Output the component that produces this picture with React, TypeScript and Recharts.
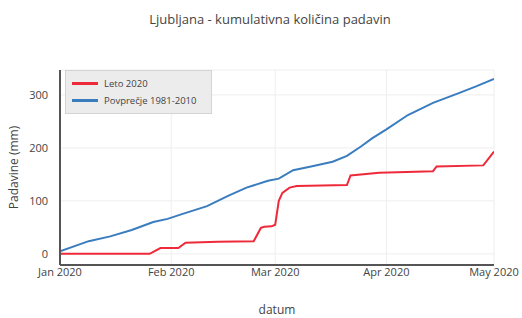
import { LineChart, Line, XAxis, YAxis, CartesianGrid, Label } from "recharts"

// Leto 2020 (cumulative precipitation, mm)
const letoDates = [
  "2020-01-01", "2020-01-26", "2020-01-29", "2020-02-03", "2020-02-05", "2020-02-14",
  "2020-02-24", "2020-02-26", "2020-02-27", "2020-02-29", "2020-03-01", "2020-03-02",
  "2020-03-03", "2020-03-05", "2020-03-07", "2020-03-21", "2020-03-22", "2020-03-30",
  "2020-04-14", "2020-04-15", "2020-04-28", "2020-05-01",
]
const letoValues = [0, 0, 11, 11, 21, 23, 24, 49, 51, 52, 55, 100, 115, 125, 128, 130, 148, 153, 156, 165, 167, 193]

// Povprečje 1981-2010
const avgDates = [
  "2020-01-01", "2020-01-09", "2020-01-15", "2020-01-21", "2020-01-27", "2020-01-31",
  "2020-02-04", "2020-02-11", "2020-02-17", "2020-02-22", "2020-02-28", "2020-03-02",
  "2020-03-06", "2020-03-11", "2020-03-17", "2020-03-21", "2020-03-25", "2020-03-28",
  "2020-04-01", "2020-04-07", "2020-04-14", "2020-04-21", "2020-04-26", "2020-05-01",
]
const avgValues = [5, 24, 33, 45, 60, 66, 75, 90, 110, 125, 138, 142, 158, 165, 174, 185, 203, 218, 235, 262, 285, 303, 316, 330]

const tickDates = ["2020-01-01", "2020-02-01", "2020-03-01", "2020-04-01", "2020-05-01"]
const tickLabels = ["Jan 2020", "Feb 2020", "Mar 2020", "Apr 2020", "May 2020"]
const yTicks = [0, 100, 200, 300]

const ts = (d: string) => Date.parse(d + "T00:00:00Z")
const letoData = letoDates.map((d, i) => ({ t: ts(d), v: letoValues[i] }))
const avgData = avgDates.map((d, i) => ({ t: ts(d), v: avgValues[i] }))
const xTicks = tickDates.map(ts)

const RED = "#ee2a3a"
const BLUE = "#3a7dbf"
const FONT = "'Open Sans', sans-serif"

function LegendBox() {
  const items = [
    { name: "Leto 2020", color: RED },
    { name: "Povprečje 1981-2010", color: BLUE },
  ]
  return (
    <div
      style={{
        position: "absolute",
        left: 65,
        top: 70,
        background: "#ececec",
        border: "1px solid #d4d4d4",
        padding: "4px 8px 4px 6px",
        fontFamily: FONT,
        fontSize: 9.5,
        color: "#444",
        width: 131,
      }}
    >
      {items.map((it) => (
        <div key={it.name} style={{ display: "flex", alignItems: "center", height: 17 }}>
          <span style={{ display: "inline-block", width: 26, height: 3, background: it.color, marginRight: 6 }} />
          {it.name}
        </div>
      ))}
    </div>
  )
}

export default function App() {
  return (
    <div style={{ position: "absolute", left: 0, top: 0, width: 522, height: 318, background: "#fff" }}>
      <div
        style={{
          position: "absolute",
          top: 10,
          left: 0,
          width: 540,
          textAlign: "center",
          fontFamily: FONT,
          fontSize: 13,
          color: "#444",
        }}
      >
        Ljubljana - kumulativna količina padavin
      </div>
      <LineChart width={522} height={318} margin={{ top: 70, right: 28, left: 0, bottom: 0 }}>
        <CartesianGrid stroke="#eeeeee" strokeWidth={1} vertical horizontal />
        <XAxis
          type="number"
          dataKey="t"
          domain={[xTicks[0], xTicks[xTicks.length - 1]]}
          ticks={xTicks}
          tickFormatter={(v: number) => tickLabels[xTicks.indexOf(v)]}
          allowDataOverflow
          height={53}
          stroke="#555"
          strokeWidth={2}
          tickLine={false}
          tickMargin={0}
          tick={{ fontSize: 11, fill: "#444", fontFamily: FONT, dy: -3 }}
        >
          <Label value="datum" position="insideBottom" offset={4} style={{ fontSize: 12, fill: "#444", fontFamily: FONT }} />
        </XAxis>
        <YAxis
          type="number"
          dataKey="v"
          domain={[-21, 347]}
          ticks={yTicks}
          allowDataOverflow
          width={60}
          stroke="#555"
          strokeWidth={2}
          tickLine={false}
          tickMargin={6}
          tick={{ fontSize: 11, fill: "#444", fontFamily: FONT }}
        >
          <Label
            value="Padavine (mm)"
            angle={-90}
            position="insideLeft"
            offset={14}
            style={{ textAnchor: "middle", fontSize: 12, fill: "#444", fontFamily: FONT }}
          />
        </YAxis>
        <Line
          data={letoData}
          dataKey="v"
          name="Leto 2020"
          type="linear"
          stroke={RED}
          strokeWidth={2}
          dot={false}
          isAnimationActive={false}
        />
        <Line
          data={avgData}
          dataKey="v"
          name="Povprečje 1981-2010"
          type="linear"
          stroke={BLUE}
          strokeWidth={2}
          dot={false}
          isAnimationActive={false}
        />
      </LineChart>
      <LegendBox />
    </div>
  )
}
